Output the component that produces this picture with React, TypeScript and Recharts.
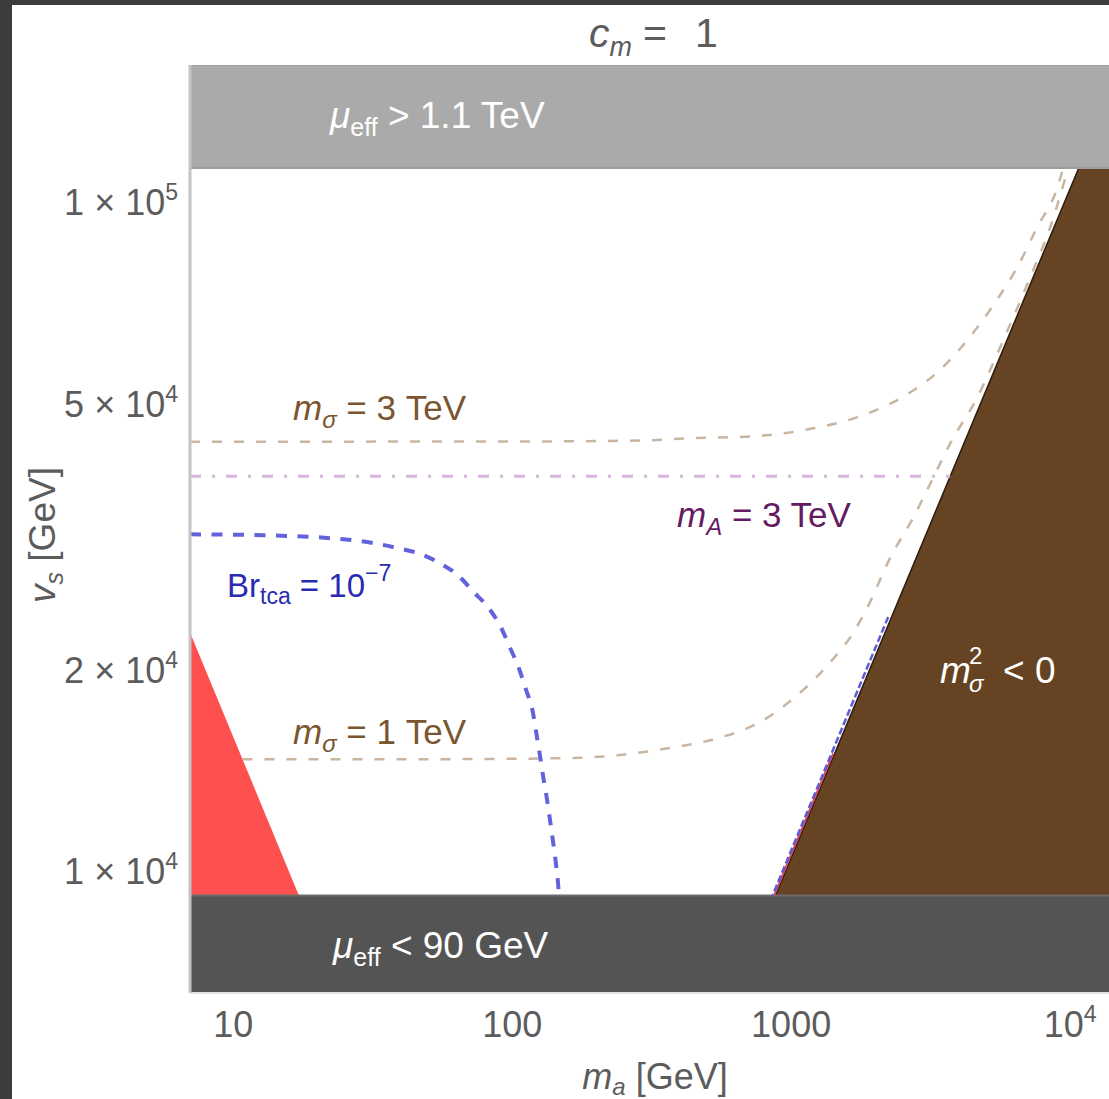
import { ComposedChart, Area, Line, XAxis, YAxis } from 'recharts';

// axis ranges (GeV)
const MA_DOMAIN = [7, 14130];
const VS_DOMAIN = [6580, 160300];
const MA_TICKS = [10, 100, 1000, 10000];
const MA_TICK_LABELS = ['10', '100', '1000', '10^4'];
const VS_TICKS = [10000, 20000, 50000, 100000];
const VS_TICK_LABELS = ['1 × 10^4', '2 × 10^4', '5 × 10^4', '1 × 10^5'];

// mu_eff bands
const MU_LOW = 9206; // mu_eff = 90 GeV
const MU_HIGH = 112500; // mu_eff = 1.1 TeV

// red excluded triangle (lower left)
const RED_MA = [7, 17.2];
const RED_VS = [22750, 9206];

// m_sigma^2 < 0 region boundary
const BROWN_MA = [879, 10740, 14130];
const BROWN_VS = [9206, 112500, 112500];

// m_sigma = 3 TeV contour
const MS3_MA = [7, 100, 300, 412, 716, 1202, 1729, 2466, 3344, 4281, 5305, 6466, 7625, 8990, 9447];
const MS3_VS = [43860, 43880, 44050, 44360, 44660, 45920, 47720, 50930, 55700, 62200, 70150, 79950, 91750, 105000, 112500];

// m_sigma = 1 TeV contour
const MS1_MA = [10.8, 50, 150, 239, 361, 545, 758, 1020, 1350, 1673, 1877, 2270, 2743, 3235, 3722, 4650, 5761, 7196, 8486, 9845];
const MS1_VS = [14710, 14710, 14760, 14910, 15270, 15810, 16640, 18140, 20320, 22760, 24800, 29470, 33810, 38810, 43630, 51110, 62200, 77260, 91750, 112500];

// m_A = 3 TeV
const MA3_MA = [7, 3720];
const MA3_VS = [38950, 38950];

// Br_tca = 1e-7 contour
const BR_MA = [7, 12.9, 22.4, 32.0, 38.97, 47.1, 55.1, 63.9, 72.9, 82.5, 91.1, 98.1, 105.7, 112, 118.6, 122.1, 125.7, 129.3, 133.1, 137.0, 140.4, 144.0, 146.4, 147.0];
const BR_VS = [31890, 31780, 31460, 30930, 30400, 29780, 28860, 27700, 26120, 24730, 23160, 21620, 20110, 18710, 17290, 16080, 14910, 13820, 12860, 11840, 11010, 10140, 9465, 9206];

// contours hugging the m_sigma^2 = 0 edge
const BR_EDGE_MA = [2228, 858];
const BR_EDGE_VS = [24000, 9206];
const RED_EDGE_MA = [1414, 869];
const RED_EDGE_VS = [15000, 9206];

const pts = (xs: number[], ys: number[]) => xs.map((x, i) => ({ x, y: ys[i] }));
const range = (xs: number[], lo: number, ys: number[]) => xs.map((x, i) => ({ x, y: [lo, ys[i]] }));

const topBand = range(MA_DOMAIN, MU_HIGH, [VS_DOMAIN[1], VS_DOMAIN[1]]);
const bottomBand = range(MA_DOMAIN, VS_DOMAIN[0], [MU_LOW, MU_LOW]);
const redData = range(RED_MA, MU_LOW, RED_VS);
const brownData = range(BROWN_MA, MU_LOW, BROWN_VS);

const FONT = '"Liberation Sans", Arial, sans-serif';
const GRAY = '#5c5c5c';

function splitSup(label: string) {
  const [base, sup] = label.split('^');
  return { base, sup };
}

function XTick(props: any) {
  const { x, y, payload } = props;
  const { base, sup } = splitSup(MA_TICK_LABELS[MA_TICKS.indexOf(payload.value)] ?? String(payload.value));
  return (
    <text x={x} y={y + 44} textAnchor="middle" fontSize={36} fill={GRAY} fontFamily={FONT}>
      {base}
      {sup && <tspan dy={-15} fontSize={23}>{sup}</tspan>}
    </text>
  );
}

function YTick(props: any) {
  const { x, y, payload } = props;
  const { base, sup } = splitSup(VS_TICK_LABELS[VS_TICKS.indexOf(payload.value)] ?? String(payload.value));
  return (
    <text x={x} y={y + 13} textAnchor="end" fontSize={36} fill={GRAY} fontFamily={FONT}>
      {base}
      {sup && <tspan dy={-15} fontSize={23}>{sup}</tspan>}
    </text>
  );
}

export default function App() {
  return (
    <div style={{ position: 'fixed', left: 0, top: 0, width: 1109, height: 1099, background: '#3c3c3c', overflow: 'hidden' }}>
      <div style={{ position: 'absolute', left: 12, top: 5, width: 1097, height: 1094, background: '#fff' }} />
      <div style={{ position: 'absolute', left: 0, top: 0 }}>
        <ComposedChart width={1112} height={1099} margin={{ top: 65, right: 0, left: 70, bottom: 46 }}>
          <XAxis
            dataKey="x"
            type="number"
            scale="log"
            domain={MA_DOMAIN}
            ticks={MA_TICKS}
            allowDataOverflow
            height={60}
            tickSize={0}
            tickMargin={0}
            tick={<XTick />}
            axisLine={{ stroke: '#e4e4e4', strokeWidth: 2 }}
          />
          <YAxis
            type="number"
            scale="log"
            domain={VS_DOMAIN}
            ticks={VS_TICKS}
            allowDataOverflow
            width={120}
            tickSize={0}
            tickMargin={12}
            tick={<YTick />}
            axisLine={{ stroke: '#c4c4c4', strokeWidth: 3 }}
          />
          <Area data={redData} dataKey="y" type="linear" fill="#ff5050" fillOpacity={1} stroke="none" isAnimationActive={false} />
          <Area data={brownData} dataKey="y" type="linear" fill="#664322" fillOpacity={1} stroke="#2e1d0c" strokeWidth={1.5} isAnimationActive={false} />
          <Area data={topBand} dataKey="y" type="linear" fill="#aaaaaa" fillOpacity={1} stroke="#9d9d9d" strokeWidth={2} isAnimationActive={false} />
          <Area data={bottomBand} dataKey="y" type="linear" fill="#545454" fillOpacity={1} stroke="#6c6c6c" strokeWidth={2} isAnimationActive={false} />
          <Line data={pts(RED_EDGE_MA, RED_EDGE_VS)} dataKey="y" type="linear" stroke="#e0445e" strokeWidth={2} dot={false} activeDot={false} isAnimationActive={false} />
          <Line data={pts(BR_EDGE_MA, BR_EDGE_VS)} dataKey="y" type="linear" stroke="#5c5cd8" strokeWidth={2.5} strokeDasharray="7 3" dot={false} activeDot={false} isAnimationActive={false} />
          <Line data={pts(MA3_MA, MA3_VS)} dataKey="y" type="linear" stroke="#d6b6da" strokeWidth={3} strokeDasharray="11 11 3 11" dot={false} activeDot={false} isAnimationActive={false} />
          <Line data={pts(MS3_MA, MS3_VS)} dataKey="y" type="monotone" stroke="#c8b6a2" strokeWidth={2.5} strokeDasharray="10 12" dot={false} activeDot={false} isAnimationActive={false} />
          <Line data={pts(MS1_MA, MS1_VS)} dataKey="y" type="monotone" stroke="#c8b6a2" strokeWidth={2.5} strokeDasharray="10 12" dot={false} activeDot={false} isAnimationActive={false} />
          <Line data={pts(BR_MA, BR_VS)} dataKey="y" type="monotone" stroke="#6262dc" strokeWidth={4} strokeDasharray="11 10.5" dot={false} activeDot={false} isAnimationActive={false} />
        </ComposedChart>
      </div>
      <svg width={1109} height={1099} style={{ position: 'absolute', left: 0, top: 0, pointerEvents: 'none' }} fontFamily={FONT}>
        <text y={47} fontSize={41} fill={GRAY}>
          <tspan x={589} fontStyle="italic">c</tspan>
          <tspan fontStyle="italic" fontSize={27} dy={9}>m</tspan>
          <tspan x={643} dy={-9}>=</tspan>
          <tspan x={695}>1</tspan>
        </text>
        <text x={330} y={128} fontSize={37} fill="#ffffff">
          <tspan fontStyle="italic">μ</tspan>
          <tspan fontSize={25} dy={8}>eff</tspan>
          <tspan dy={-8}> &gt; 1.1 TeV</tspan>
        </text>
        <text x={333} y={958} fontSize={37} fill="#ffffff">
          <tspan fontStyle="italic">μ</tspan>
          <tspan fontSize={25} dy={8}>eff</tspan>
          <tspan dy={-8}> &lt; 90 GeV</tspan>
        </text>
        <text x={293} y={420} fontSize={35} fill="#7b5530">
          <tspan fontStyle="italic">m</tspan>
          <tspan fontStyle="italic" fontSize={24} dy={8}>σ</tspan>
          <tspan dy={-8}> = 3 TeV</tspan>
        </text>
        <text x={293} y={744} fontSize={35} fill="#7b5530">
          <tspan fontStyle="italic">m</tspan>
          <tspan fontStyle="italic" fontSize={24} dy={8}>σ</tspan>
          <tspan dy={-8}> = 1 TeV</tspan>
        </text>
        <text x={677} y={527} fontSize={35} fill="#651a62">
          <tspan fontStyle="italic">m</tspan>
          <tspan fontStyle="italic" fontSize={24} dy={8}>A</tspan>
          <tspan dy={-8}> = 3 TeV</tspan>
        </text>
        <text x={227} y={597} fontSize={33} fill="#2a2ab4">
          <tspan>Br</tspan>
          <tspan fontSize={23} dy={7}>tca</tspan>
          <tspan dy={-7}> = 10</tspan>
          <tspan fontSize={23} dy={-16}>−7</tspan>
        </text>
        <text x={940} y={683} fontSize={37} fill="#ffffff" fontStyle="italic">m</text>
        <text x={969} y={692} fontSize={24} fill="#ffffff" fontStyle="italic">σ</text>
        <text x={969} y={664} fontSize={24} fill="#ffffff">2</text>
        <text x={1003} y={683} fontSize={37} fill="#ffffff">&lt; 0</text>
        <text transform="translate(55,535) rotate(-90)" textAnchor="middle" fontSize={37} fill={GRAY}>
          <tspan fontStyle="italic">v</tspan>
          <tspan fontStyle="italic" fontSize={25} dy={8}>s</tspan>
          <tspan dy={-8}> [GeV]</tspan>
        </text>
        <text x={655} y={1089} textAnchor="middle" fontSize={36} fill={GRAY}>
          <tspan fontStyle="italic">m</tspan>
          <tspan fontStyle="italic" fontSize={24} dy={6}>a</tspan>
          <tspan dy={-6}> [GeV]</tspan>
        </text>
      </svg>
    </div>
  );
}
